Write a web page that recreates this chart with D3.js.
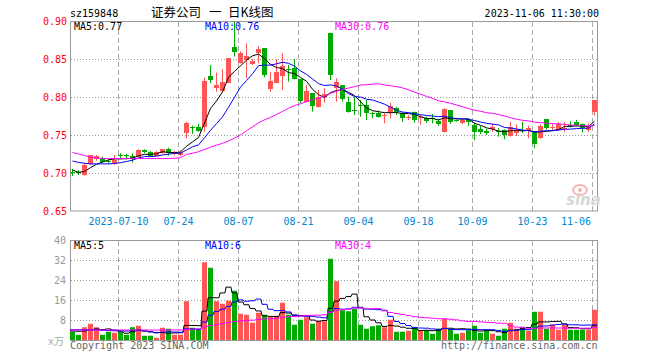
<!DOCTYPE html>
<html><head><meta charset="utf-8">
<script src="https://cdn.jsdelivr.net/npm/d3@7"></script>
<style>body{margin:0;background:#fff}svg{display:block}</style>
</head><body>
<svg id="c" width="660" height="360"></svg>
<script>
const dates = ["06-28","06-29","06-30",
 "07-03","07-04","07-05","07-06","07-07","07-10","07-11","07-12","07-13","07-14",
 "07-17","07-18","07-19","07-20","07-21","07-24","07-25","07-26","07-27","07-28","07-31",
 "08-01","08-02","08-03","08-04","08-07","08-08","08-09","08-10","08-11","08-14","08-15","08-16","08-17","08-18",
 "08-21","08-22","08-23","08-24","08-25","08-28","08-29","08-30","08-31",
 "09-01","09-04","09-05","09-06","09-07","09-08","09-11","09-12","09-13","09-14","09-15",
 "09-18","09-19","09-20","09-21","09-22","09-25","09-26","09-27","09-28",
 "10-09","10-10","10-11","10-12","10-13","10-16","10-17","10-18","10-19","10-20",
 "10-23","10-24","10-25","10-26","10-27","10-30","10-31",
 "11-01","11-02","11-03","11-06"];
const open  = [0.7012,0.7010,0.6974,0.7118,0.7185,0.7193,0.7152,0.7118,0.7240,0.7240,
 0.7219,0.7215,0.7303,0.7277,0.7228,0.7259,0.7310,0.7245,0.7240,0.7522,
 0.7605,0.7610,0.7610,0.8276,0.8118,0.8083,0.8189,0.8662,0.8453,0.8487,
 0.8434,0.8575,0.8640,0.8101,0.8189,0.8276,0.8368,0.8377,0.8232,0.7939,
 0.8048,0.7864,0.7996,0.8846,0.8114,0.8158,0.7934,0.7832,0.7889,0.7895,
 0.7788,0.7794,0.7760,0.7794,0.7850,0.7785,0.7720,0.7807,0.7738,0.7720,
 0.7722,0.7689,0.7535,0.7829,0.7692,0.7654,0.7706,0.7632,0.7575,0.7549,
 0.7575,0.7548,0.7566,0.7487,0.7530,0.7570,0.7553,0.7553,0.7457,0.7706,
 0.7588,0.7566,0.7575,0.7636,0.7667,0.7641,0.7570,0.7807];
const high  = [0.7050,0.7036,0.7128,0.7237,0.7237,0.7215,0.7180,0.7237,0.7259,0.7250,
 0.7259,0.7312,0.7312,0.7290,0.7290,0.7316,0.7333,0.7290,0.7300,0.7675,
 0.7624,0.7650,0.8255,0.8421,0.8320,0.8364,0.8509,0.8995,0.8600,0.8706,
 0.8500,0.8670,0.8640,0.8333,0.8496,0.8575,0.8421,0.8496,0.8232,0.8158,
 0.8048,0.8092,0.8114,0.8846,0.8246,0.8158,0.8004,0.8000,0.7960,0.7960,
 0.7807,0.7820,0.7790,0.7925,0.7870,0.7807,0.7763,0.7807,0.7763,0.7741,
 0.7776,0.7710,0.7851,0.7829,0.7706,0.7710,0.7715,0.7662,0.7620,0.7580,
 0.7650,0.7590,0.7575,0.7675,0.7641,0.7675,0.7623,0.7553,0.7640,0.7706,
 0.7650,0.7670,0.7670,0.7680,0.7700,0.7650,0.7650,0.7960];
const low   = [0.6960,0.6974,0.6965,0.7105,0.7162,0.7136,0.7118,0.7105,0.7193,0.7180,
 0.7136,0.7207,0.7259,0.7211,0.7224,0.7250,0.7228,0.7228,0.7220,0.7456,
 0.7514,0.7544,0.7544,0.8180,0.8070,0.8070,0.8180,0.8531,0.8440,0.8246,
 0.8420,0.8443,0.8259,0.8070,0.8180,0.8092,0.8202,0.8232,0.7917,0.7930,
 0.7807,0.7860,0.7925,0.8224,0.7939,0.7939,0.7794,0.7763,0.7740,0.7697,
 0.7720,0.7730,0.7653,0.7720,0.7763,0.7675,0.7697,0.7662,0.7632,0.7660,
 0.7654,0.7620,0.7531,0.7645,0.7675,0.7645,0.7618,0.7434,0.7510,0.7500,
 0.7540,0.7478,0.7443,0.7478,0.7487,0.7527,0.7457,0.7325,0.7450,0.7570,
 0.7550,0.7555,0.7540,0.7600,0.7610,0.7535,0.7540,0.7754];
const close = [0.7010,0.7000,0.7105,0.7237,0.7222,0.7149,0.7149,0.7171,0.7237,0.7237,
 0.7180,0.7303,0.7277,0.7228,0.7280,0.7312,0.7260,0.7262,0.7262,0.7662,
 0.7601,0.7550,0.8210,0.8224,0.8153,0.8202,0.8509,0.8596,0.8585,0.8540,
 0.8478,0.8627,0.8289,0.8211,0.8333,0.8408,0.8364,0.8232,0.7952,0.8083,
 0.7882,0.8005,0.8039,0.8289,0.8202,0.7970,0.7807,0.7829,0.7886,0.7794,
 0.7785,0.7741,0.7763,0.7882,0.7807,0.7720,0.7741,0.7697,0.7741,0.7690,
 0.7720,0.7641,0.7842,0.7675,0.7690,0.7697,0.7667,0.7544,0.7540,0.7523,
 0.7610,0.7544,0.7500,0.7601,0.7566,0.7555,0.7588,0.7378,0.7623,0.7597,
 0.7610,0.7641,0.7597,0.7620,0.7632,0.7588,0.7610,0.7960];
const volume = [3.3,2.1,5.1,6.5,5.1,2.1,3.3,2.9,3.1,2.1,
 5.1,5.7,1.7,1.7,0.9,4.9,4.5,2.1,2.1,15.5,
 4.9,4.1,31.1,28.9,15.5,14.5,15.7,19.7,10.5,10.1,
 6.9,10.9,10.1,9.2,9.7,14.9,10.1,6.1,8.1,9.1,
 6.5,7.7,7.5,32.5,23.5,11.9,11.5,12.4,6.1,4.5,
 5.5,5.9,5.1,8.1,3.3,3.3,3.7,4.8,3.7,3.9,
 2.5,4.5,8.5,4.1,2.5,2.9,3.9,5.7,2.9,3.7,
 2.5,1.7,4.5,6.9,4.5,5.3,3.7,11.3,11.3,4.5,
 6.1,4.1,6.1,4.1,4.1,4.1,4.1,12.1];
// moving-average values before enough in-window days exist
const ma5Head  = [0.704,0.701,0.702,0.707];
const ma10Head = [0.7158,0.714,0.7128,0.712,0.712,0.712,0.712,0.7125,0.7135];
const ma30Head = [0.727,0.725,0.723,0.721,0.720,0.719,0.719,0.719,0.719,0.719,
 0.719,0.719,0.719,0.719,0.719,0.719,0.719,0.7195,0.720,0.7245,
 0.726,0.728,0.731,0.734,0.7365,0.739,0.742,0.746,0.750];
const volMa5Head  = [3.6,3.5,3.6,4.1];
const volMa10Head = [4.1,4.1,4.1,4.1,4.0,3.9,3.8,3.7,3.7];
const volMa30Head = [4.0,4.0,4.0,4.0,4.0,4.0,4.0,4.0,4.0,4.0,
 4.0,4.0,4.0,4.0,4.0,4.0,4.0,4.0,4.0,4.1,
 4.3,4.5,5.2,5.8,6.2,6.6,7.0,7.4,7.6];
const tickDates  = ["07-10","07-24","08-07","08-21","09-04","09-18","10-09","10-23","11-06"];
const tickLabels = ["2023-07-10","07-24","08-07","08-21","09-04","09-18","10-09","10-23","11-06"];
const priceTicks = [0.90,0.85,0.80,0.75,0.70,0.65];
const volTicks = [40,32,24,16,8];
const priceLegend = ["MA5:0.77","MA10:0.76","MA30:0.76"];
const volLegend = ["MA5:5","MA10:6","MA30:4"];

const RED="#ff5555", GREEN="#00aa00", MONO="'DejaVu Sans Mono', monospace";
const svg = d3.select("#c");
svg.append("rect").attr("width",660).attr("height",360).attr("fill","#fff");

const x = d3.scaleBand().domain(dates).range([70,597]).paddingInner(1/6).paddingOuter(0);
const yP = d3.scaleLinear().domain([0.65,0.90]).range([211,21]);
const yV = d3.scaleLinear().domain([0,40]).range([340,240]);

function ma(arr,n,head){
  return arr.map((v,i)=> i<n-1 ? head[i] : d3.mean(arr.slice(i-n+1,i+1)));
}
const pMA = [ma(close,5,ma5Head), ma(close,10,ma10Head), ma(close,30,ma30Head)];
const vMA = [ma(volume,5,volMa5Head), ma(volume,10,volMa10Head), ma(volume,30,volMa30Head)];
const maColors = ["#000000","#0000ff","#ff00ff"];

// grid
const g = svg.append("g");
priceTicks.slice(1,-1).forEach(t=>{
  const yy = Math.round(yP(t))+0.5;
  g.append("line").attr("x1",71).attr("x2",597).attr("y1",yy).attr("y2",yy)
   .attr("stroke","#999").attr("stroke-dasharray","1,2");
});
volTicks.slice(1).forEach(t=>{
  const yy = Math.round(yV(t))+0.5;
  g.append("line").attr("x1",71).attr("x2",597).attr("y1",yy).attr("y2",yy)
   .attr("stroke","#999").attr("stroke-dasharray","1,2");
});
tickDates.forEach(d=>{
  const xx = x(d)+0.5;
  [[22,211],[241,340]].forEach(([a,b])=>{
    g.append("line").attr("x1",xx).attr("x2",xx).attr("y1",a).attr("y2",b)
     .attr("stroke","#aaa").attr("stroke-dasharray","5,3");
  });
});
// borders
svg.append("rect").attr("x",70.5).attr("y",21.5).attr("width",527).attr("height",189.5)
  .attr("fill","none").attr("stroke","#999");
svg.append("rect").attr("x",70.5).attr("y",240.5).attr("width",527).attr("height",100)
  .attr("fill","none").attr("stroke","#999");

// watermark
const wm = svg.append("g");
wm.append("ellipse").attr("cx",580).attr("cy",190).attr("rx",7).attr("ry",5)
  .attr("fill","none").attr("stroke","#f5b5b5").attr("stroke-width",2);
wm.append("circle").attr("cx",580).attr("cy",190).attr("r",2).attr("fill","#f5b5b5");
wm.append("text").attr("x",566).attr("y",205).text("sina")
  .attr("font-family","Verdana, 'DejaVu Sans', sans-serif").attr("font-style","italic")
  .attr("font-weight","bold").attr("font-size",15).attr("fill","#d6d6d6");

// candles
const cg = svg.append("g");
dates.forEach((d,i)=>{
  const up = close[i] > open[i];
  const col = up ? RED : GREEN;
  const cx = x(d)+2.5;
  cg.append("line").attr("x1",cx).attr("x2",cx)
    .attr("y1",yP(Math.min(high[i],0.8995))).attr("y2",yP(low[i]))
    .attr("stroke",col).attr("stroke-width",1);
  const y1 = yP(Math.max(open[i],close[i])), y2 = yP(Math.min(open[i],close[i]));
  cg.append("rect").attr("x",x(d)).attr("y",Math.round(y1))
    .attr("width",x.bandwidth()).attr("height",Math.max(1,Math.round(y2)-Math.round(y1)))
    .attr("fill",col);
});
// price MA lines
const lineP = d3.line().x((v,i)=>x(dates[i])+2.5).y(v=>yP(v));
pMA.forEach((arr,k)=>{
  svg.append("path").attr("d",lineP(arr)).attr("fill","none")
    .attr("stroke",maColors[k]).attr("stroke-width",1);
});

// volume bars
dates.forEach((d,i)=>{
  const col = close[i] > open[i] ? RED : GREEN;
  svg.append("rect").attr("x",x(d)).attr("y",yV(volume[i]))
    .attr("width",x.bandwidth()).attr("height",yV(0)-yV(volume[i])).attr("fill",col);
});
// volume MA step lines
vMA.forEach((arr,k)=>{
  const pts=[];
  arr.forEach((v,i)=>{ pts.push([x(dates[i]),yV(v)]); pts.push([x(dates[i])+5,yV(v)]); });
  svg.append("path").attr("d",d3.line()(pts)).attr("fill","none")
    .attr("stroke",maColors[k]).attr("stroke-width",1);
});

// axis labels
const txt = (xx,yy,s,opts={})=>{
  const t = svg.append("text").attr("x",xx).attr("y",yy).text(s)
    .attr("font-family",opts.font||MONO).attr("font-size",opts.size||10)
    .attr("fill",opts.fill||"#000").attr("text-anchor",opts.anchor||"start");
  return t;
};
priceTicks.forEach(t=>txt(67,yP(t)+4,t.toFixed(2),{anchor:"end",fill:"#ff0000"}));
volTicks.forEach(t=>txt(66,yV(t)+4,String(t),{anchor:"end",fill:"#999"}));
txt(64,345,"x万",{anchor:"end",fill:"#aaa",font:"'DejaVu Sans Mono','Noto Sans CJK SC',monospace"});
tickDates.forEach((d,i)=>{
  const w = tickLabels[i].length*6.02;
  let c = x(d)+0.5;
  if (c + w/2 > 591) c = 591 - w/2;
  txt(c,225,tickLabels[i],{anchor:"middle",fill:"#0088cc"});
});
// legends
const legX = [74,205,335];
priceLegend.forEach((s,k)=>txt(legX[k],30,s,{fill:maColors[k]}));
volLegend.forEach((s,k)=>txt(legX[k],249,s,{fill:maColors[k]}));

// header
txt(70,16.5,"sz159848");
const title = svg.append("text").attr("y",17).attr("font-family","'Noto Sans CJK SC',sans-serif")
  .attr("font-size",12.5).attr("fill","#000");
title.append("tspan").attr("x",151).text("证券公司");
title.append("tspan").attr("x",209).text("一");
title.append("tspan").attr("x",228).text("日K线图");
txt(599,16.5,"2023-11-06 11:30:00",{anchor:"end"});
// footer
txt(70,348.5,"Copyright 2023 SINA.COM",{fill:"#666"});
txt(597.5,348.5,"http://finance.sina.com.cn",{fill:"#666",anchor:"end"});
</script>
</body></html>
